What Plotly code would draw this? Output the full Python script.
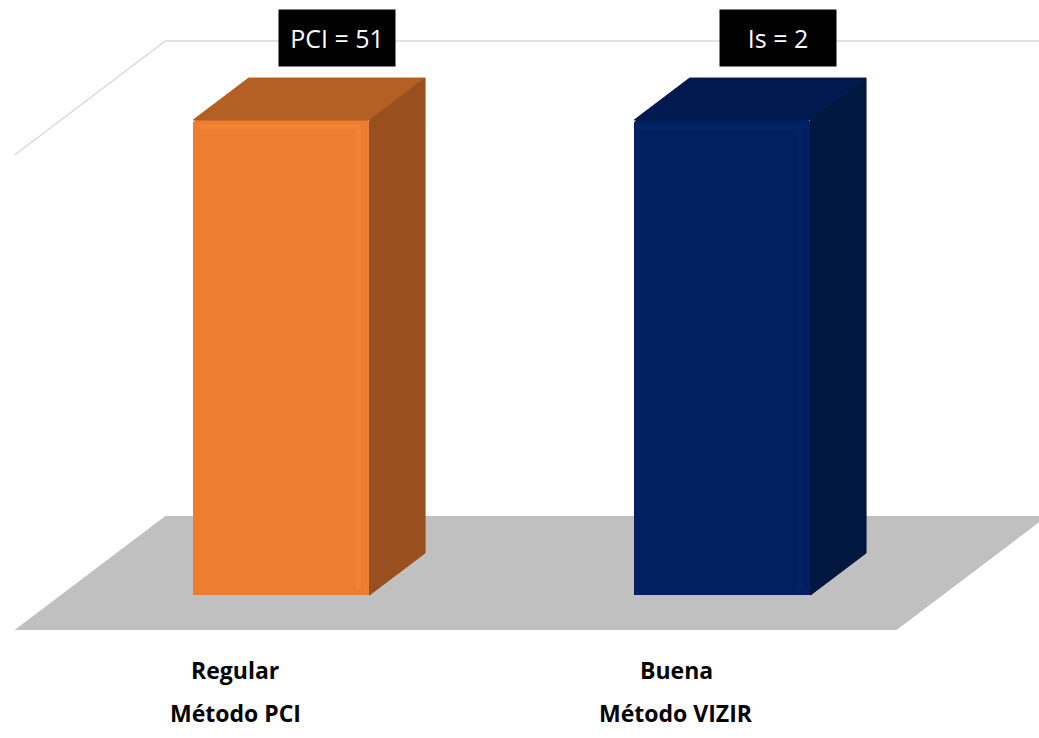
import plotly.graph_objects as go

# Data
categorias = ["Regular", "Buena"]
metodos = ["Método PCI", "Método VIZIR"]
valores = [1, 1]
indices = ["PCI", "Is"]
indice_valor = [51, 2]

# Styling
cara_frontal = ["#ED7D31", "#002060"]
brillo = ["#F68B3B", "#0A2A70"]
cara_superior = ["#B45F24", "#001A4F"]
cara_lateral = ["#9A501E", "#00173F"]
color_piso = "#C0C0C0"
color_pared = "#D9D9D9"

# Oblique projection for the pseudo-3D look: depth z runs 0 (front of floor) to 1 (back wall)
DX, DY = 0.342, 0.240
Z0, Z1 = 0.307, 0.675      # front and back planes of the bars
ANCHO = 0.40               # bar width in category units
YMAX = 1.0


def proy(x, y, z):
    return x + (z - Z0) * DX, y + (z - Z0) * DY


def poligono(puntos):
    xs, ys = zip(*[proy(*p) for p in puntos])
    return list(xs) + [xs[0]], list(ys) + [ys[0]]


def ruta(puntos):
    pts = [proy(*p) for p in puntos]
    return "M " + " L ".join(f"{x},{y}" for x, y in pts) + " Z"


fig = go.Figure()

# Floor, drawn beneath all traces
fig.add_shape(type="path", xref="x", yref="y", layer="below",
              path=ruta([(-0.5, 0, 0), (1.5, 0, 0), (1.5, 0, 1), (-0.5, 0, 1)]),
              fillcolor=color_piso, line=dict(width=0))

# Walls: top gridline on the side wall and on the back wall
wx, wy = zip(*[proy(-0.5, YMAX, 0), proy(-0.5, YMAX, 1), proy(2.0, YMAX, 1)])
fig.add_shape(type="path", xref="x", yref="y", layer="below",
              path=f"M {wx[0]},{wy[0]} L {wx[1]},{wy[1]} L {wx[2]},{wy[2]}",
              line=dict(color=color_pared, width=1.5))

# Front faces of the bars
fig.add_trace(go.Bar(x=list(range(len(valores))), y=valores, width=ANCHO,
                     marker=dict(color=cara_frontal, line=dict(width=0), cornerradius=4),
                     hoverinfo="skip", showlegend=False))

# Top and side faces, plus a soft bevel along the front face edges
for i, v in enumerate(valores):
    x0, x1 = i - ANCHO / 2, i + ANCHO / 2
    tx, ty = poligono([(x0, v, Z0), (x1, v, Z0), (x1, v, Z1), (x0, v, Z1)])
    fig.add_trace(go.Scatter(x=tx, y=ty, fill="toself", fillcolor=cara_superior[i],
                             mode="lines", line=dict(color=cara_superior[i], width=1),
                             hoverinfo="skip", showlegend=False))
    sx, sy = poligono([(x1, 0, Z0), (x1, v, Z0), (x1, v, Z1), (x1, 0, Z1)])
    fig.add_trace(go.Scatter(x=sx, y=sy, fill="toself", fillcolor=cara_lateral[i],
                             mode="lines", line=dict(color=cara_lateral[i], width=1),
                             hoverinfo="skip", showlegend=False))
    fig.add_trace(go.Scatter(x=[x0 + 0.01, x1 - 0.025, x1 - 0.025],
                             y=[v - 0.014, v - 0.014, 0.012],
                             mode="lines", line=dict(color=brillo[i], width=5),
                             opacity=0.45, hoverinfo="skip", showlegend=False))

# Value boxes above the bars
for i, v in enumerate(valores):
    bx, _ = proy(i, v, Z1)
    fig.add_annotation(x=bx, y=1.1726, xref="x", yref="y",
                       text=f"{indices[i]} = {indice_valor[i]}", showarrow=False,
                       font=dict(family="Open Sans", size=25, color="white"),
                       bgcolor="black", width=110, height=50, borderpad=3,
                       xanchor="center", yanchor="middle")

# Category labels along the front edge of the floor
for i in range(len(categorias)):
    lx, _ = proy(i, 0, 0)
    fig.add_annotation(x=lx, y=-0.158, text=f"<b>{categorias[i]}</b>", showarrow=False,
                       font=dict(family="Open Sans", size=23, color="black"),
                       xanchor="center", yanchor="middle")
    fig.add_annotation(x=lx, y=-0.248, text=f"<b>{metodos[i]}</b>", showarrow=False,
                       font=dict(family="Open Sans", size=23, color="black"),
                       xanchor="center", yanchor="middle")

fig.update_layout(
    width=1039, height=738,
    margin=dict(l=0, r=0, t=0, b=0),
    paper_bgcolor="white", plot_bgcolor="white",
    xaxis=dict(range=[-0.638, 1.718], visible=False, fixedrange=True),
    yaxis=dict(range=[-0.301, 1.2526], visible=False, fixedrange=True),
    bargap=0,
)

fig.write_html("out.html")
